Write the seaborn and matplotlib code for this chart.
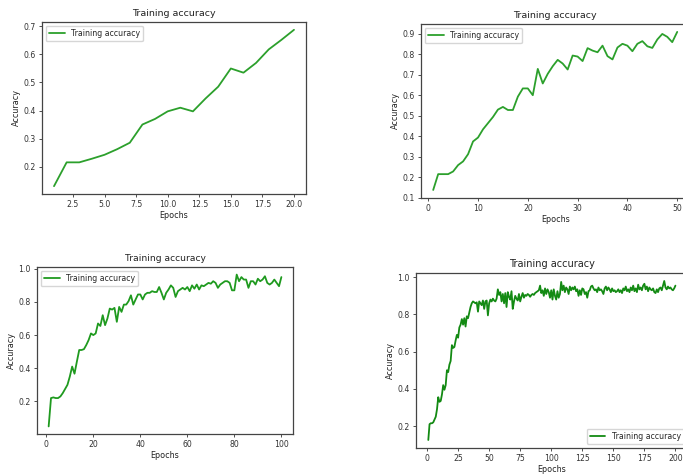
"""
plot.py - four training-accuracy curves laid out like the reference screenshot.
"""

import numpy as np
import matplotlib
matplotlib.use("Agg")
import matplotlib.pyplot as plt
import seaborn as sns

# Run 1: 20 epochs
acc_20 = [0.13, 0.215, 0.215, 0.228, 0.242, 0.262, 0.285, 0.35, 0.37, 0.397,
          0.41, 0.397, 0.443, 0.485, 0.55, 0.535, 0.57, 0.618, 0.652, 0.688]

# Run 2: 50 epochs
acc_50 = [0.139, 0.216, 0.216, 0.216, 0.229, 0.26, 0.278, 0.313, 0.375, 0.394,
          0.434, 0.464, 0.494, 0.53, 0.543, 0.528, 0.528, 0.593, 0.633, 0.633,
          0.60, 0.728, 0.657, 0.704, 0.741, 0.772, 0.754, 0.725, 0.793, 0.788,
          0.766, 0.829, 0.817, 0.809, 0.841, 0.79, 0.774, 0.832, 0.85, 0.841,
          0.814, 0.85, 0.863, 0.838, 0.83, 0.871, 0.898, 0.884, 0.858, 0.908]

# Run 3: 100 epochs
acc_100 = [0.049, 0.22, 0.224, 0.22, 0.22, 0.23, 0.25, 0.275, 0.30, 0.35,
           0.41, 0.367, 0.44, 0.51, 0.51, 0.515, 0.54, 0.57, 0.61, 0.60,
           0.61, 0.67, 0.655, 0.72, 0.66, 0.70, 0.76, 0.754, 0.764, 0.68,
           0.77, 0.74, 0.784, 0.784, 0.805, 0.84, 0.784, 0.815, 0.845, 0.845,
           0.815, 0.845, 0.855, 0.855, 0.865, 0.86, 0.86, 0.89, 0.855, 0.815,
           0.855, 0.875, 0.90, 0.885, 0.83, 0.865, 0.875, 0.885, 0.875, 0.89,
           0.865, 0.90, 0.88, 0.905, 0.875, 0.90, 0.895, 0.905, 0.915, 0.91,
           0.925, 0.915, 0.885, 0.905, 0.915, 0.925, 0.925, 0.915, 0.87, 0.87,
           0.965, 0.925, 0.95, 0.935, 0.935, 0.885, 0.925, 0.925, 0.905, 0.94,
           0.925, 0.935, 0.955, 0.915, 0.905, 0.915, 0.935, 0.915, 0.895, 0.95]

# Run 4: 200 epochs
acc_200 = [0.125, 0.21, 0.215, 0.215, 0.22, 0.235, 0.25, 0.29, 0.355, 0.33,
           0.335, 0.37, 0.42, 0.395, 0.42, 0.50, 0.49, 0.53, 0.55, 0.635,
           0.62, 0.625, 0.66, 0.69, 0.675, 0.73, 0.745, 0.775, 0.745, 0.78,
           0.735, 0.79, 0.78, 0.81, 0.84, 0.86, 0.87, 0.865, 0.86, 0.865,
           0.815, 0.87, 0.86, 0.85, 0.875, 0.83, 0.87, 0.875, 0.795, 0.86,
           0.88, 0.87, 0.885, 0.875, 0.87, 0.885, 0.935, 0.905, 0.92, 0.87,
           0.91, 0.86, 0.915, 0.84, 0.92, 0.895, 0.88, 0.925, 0.83, 0.87,
           0.90, 0.885, 0.875, 0.91, 0.87, 0.895, 0.915, 0.89, 0.905, 0.90,
           0.91, 0.905, 0.895, 0.905, 0.91, 0.905, 0.915, 0.92, 0.925, 0.93,
           0.955, 0.915, 0.93, 0.90, 0.94, 0.91, 0.935, 0.92, 0.89, 0.93,
           0.88, 0.935, 0.90, 0.88, 0.925, 0.89, 0.91, 0.975, 0.93, 0.955,
           0.92, 0.945, 0.935, 0.91, 0.95, 0.93, 0.945, 0.935, 0.95, 0.925,
           0.935, 0.90, 0.93, 0.905, 0.94, 0.935, 0.91, 0.92, 0.89, 0.925,
           0.93, 0.95, 0.955, 0.94, 0.93, 0.935, 0.92, 0.945, 0.93, 0.935,
           0.925, 0.91, 0.94, 0.95, 0.93, 0.945, 0.935, 0.92, 0.94, 0.925,
           0.93, 0.92, 0.925, 0.935, 0.92, 0.93, 0.915, 0.94, 0.93, 0.95,
           0.925, 0.935, 0.92, 0.945, 0.93, 0.955, 0.925, 0.94, 0.92, 0.96,
           0.935, 0.945, 0.93, 0.955, 0.965, 0.935, 0.95, 0.925, 0.945, 0.935,
           0.93, 0.94, 0.92, 0.915, 0.935, 0.92, 0.94, 0.945, 0.93, 0.955,
           0.98, 0.945, 0.935, 0.95, 0.94, 0.945, 0.935, 0.93, 0.94, 0.955]

# Tick positions for each panel
xticks_20 = [2.5, 5.0, 7.5, 10.0, 12.5, 15.0, 17.5, 20.0]
yticks_20 = [0.2, 0.3, 0.4, 0.5, 0.6, 0.7]
xticks_50 = [0, 10, 20, 30, 40, 50]
yticks_50 = [0.1, 0.2, 0.3, 0.4, 0.5, 0.6, 0.7, 0.8, 0.9]
xticks_100 = [0, 20, 40, 60, 80, 100]
yticks_100 = [0.2, 0.4, 0.6, 0.8, 1.0]
xticks_200 = [0, 25, 50, 75, 100, 125, 150, 175, 200]
yticks_200 = [0.2, 0.4, 0.6, 0.8, 1.0]

sns.set_style("ticks")
plt.rcParams["font.family"] = ["DejaVu Sans"]

fig = plt.figure(figsize=(6.83, 4.75), dpi=100)

# (accuracy list, axes rect, colour, legend loc, x ticks, y ticks, title size)
panels = [
    (acc_20, [0.0615, 0.5916, 0.3865, 0.3621], "#2ca02c", "upper left",
     xticks_20, yticks_20, 6.8),
    (acc_50, [0.6164, 0.5832, 0.3930, 0.3663], "#2ca02c", "upper left",
     xticks_50, yticks_50, 6.8),
    (acc_100, [0.0542, 0.0863, 0.3748, 0.3516], "#1f9a1f", "upper left",
     xticks_100, yticks_100, 6.6),
    (acc_200, [0.6090, 0.0570, 0.3980, 0.3682], "#138a13", "lower right",
     xticks_200, yticks_200, 7.0),
]

for acc, rect, color, loc, xt, yt, tsize in panels:
    ax = fig.add_axes(rect)
    epochs = np.arange(1, len(acc) + 1)
    sns.lineplot(x=epochs, y=acc, color=color, linewidth=1.3,
                 label="Training accuracy", ax=ax)

    ax.set_xticks(xt)
    ax.set_yticks(yt)
    ax.tick_params(labelsize=5.6, length=2.5, width=0.6, pad=2,
                   colors="#333333")
    ax.set_title("Training accuracy", fontsize=tsize, color="#222222", pad=4)
    ax.set_xlabel("Epochs", fontsize=5.8, color="#222222", labelpad=1)
    ax.set_ylabel("Accuracy", fontsize=5.8, color="#222222", labelpad=2)
    for spine in ax.spines.values():
        spine.set_color("#444444")
        spine.set_linewidth(0.9)
    ax.legend(loc=loc, fontsize=5.6, frameon=True, edgecolor="#cccccc",
              handlelength=2.0, borderpad=0.4)

plt.savefig("out.png", dpi=100)
